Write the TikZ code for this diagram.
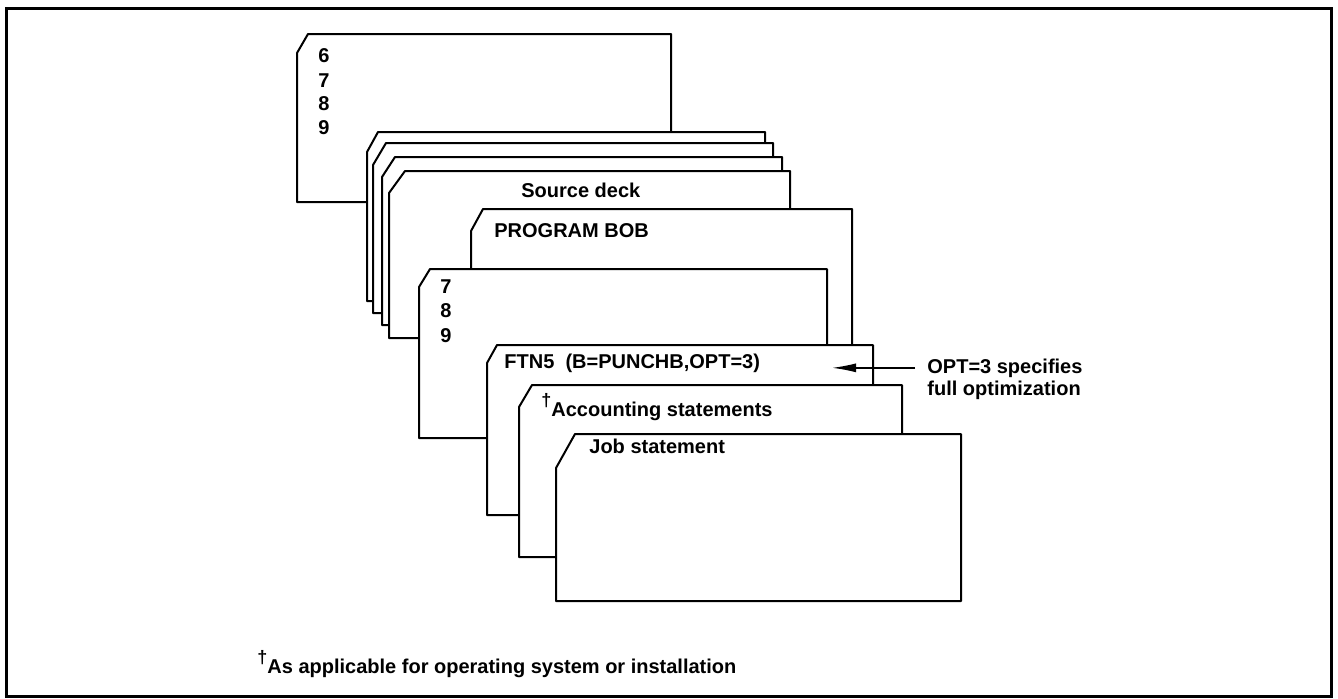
\documentclass[tikz,border=0pt]{standalone}
\usepackage{fontspec}
\setmainfont{Liberation Sans}
\usetikzlibrary{positioning,arrows.meta}

\begin{document}
\begin{tikzpicture}[x=0.5pt,y=-0.5pt,
    card_style/.style={draw=black,fill=white,line width=1pt,line join=round},
    frame_style/.style={draw=black,line width=1.5pt},
    label_style/.style={inner sep=0pt,anchor=base west,font=\bfseries},
    digit_style/.style={inner sep=0pt,anchor=base,font=\bfseries},
    arrow_style/.style={draw=black,line width=0.7pt,-{Latex[length=12pt,width=4.5pt]}}]
  \useasboundingbox (0,0) rectangle (1338,698);
  \draw[frame_style] (6,8) rectangle (1331,696);
  % cards, back to front
  \draw[card_style] (297,53) -- (308,34) -- (671,34) -- (671,202) -- (297,202) -- cycle;
  \draw[card_style] (367,152) -- (378,132) -- (765,132) -- (765,301) -- (367,301) -- cycle;
  \draw[card_style] (373,165) -- (386,143) -- (773,143) -- (773,313) -- (373,313) -- cycle;
  \draw[card_style] (382,177) -- (395,157) -- (782,157) -- (782,325) -- (382,325) -- cycle;
  \draw[card_style] (389,193) -- (405,171) -- (790,171) -- (790,338) -- (389,338) -- cycle;
  \draw[card_style] (471,231) -- (483,209) -- (852,209) -- (852,430) -- (471,430) -- cycle;
  \draw[card_style] (419,287) -- (430,269) -- (827,269) -- (827,438) -- (419,438) -- cycle;
  \draw[card_style] (487,363) -- (497,345) -- (873,345) -- (873,515) -- (487,515) -- cycle;
  \draw[card_style] (519,407) -- (532,385) -- (902,385) -- (902,557) -- (519,557) -- cycle;
  \draw[card_style] (556,468) -- (575,434) -- (961,434) -- (961,601) -- (556,601) -- cycle;
  % punches
  \node[digit_style] (six) at (324,62) {6};
  \node[digit_style] (seven) at (324,87) {7};
  \node[digit_style] (eight) at (324,110) {8};
  \node[digit_style] (nine) at (324,134) {9};
  \node[digit_style] (seven_b) at (446,293) {7};
  \node[digit_style] (eight_b) at (446,317) {8};
  \node[digit_style] (nine_b) at (446,342) {9};
  % card texts
  \node[label_style] (source) at (521,197) {Source deck};
  \node[label_style] (program) at (494,237) {PROGRAM BOB};
  \node[label_style] (ftn) at (504,368) {FTN5\ \ (B=PUNCHB,OPT=3)};
  \node[label_style] (acct) at (541,416) {\raisebox{5pt}{\small †}Accounting statements};
  \node[label_style] (job) at (589,453) {Job statement};
  % note
  \node[label_style] (note1) at (927,373) {OPT=3 specifies};
  \node[label_style, below=11pt of note1.base west, anchor=base west] (note2) {full optimization};
  \coordinate (opttip) at (832,368);
  \draw[arrow_style, shorten <=6pt] (note1.west) -- (opttip |- note1.west);
  \node[label_style] (footnote) at (257,673) {\raisebox{5pt}{\small †}As applicable for operating system or installation};
\end{tikzpicture}
\end{document}
